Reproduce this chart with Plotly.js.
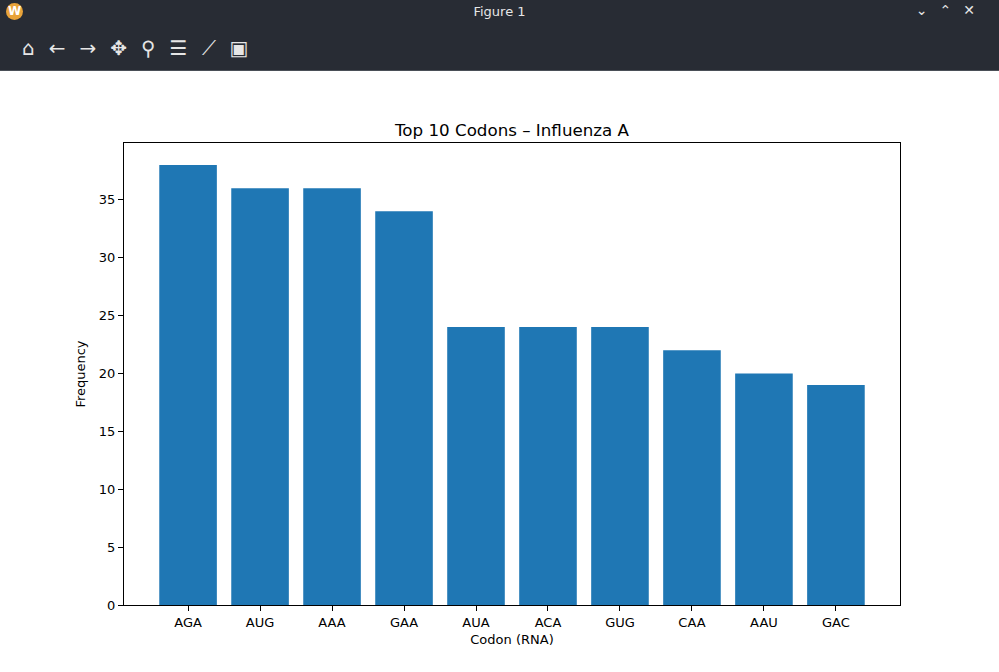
<!DOCTYPE html>
<html>
<head>
<meta charset="utf-8">
<script src="https://cdn.plot.ly/plotly-3.0.1.min.js"></script>
<style>
  body { margin: 0; background: #fff; width: 999px; height: 672px; overflow: hidden; font-family: "DejaVu Sans", sans-serif; }
  #bar { height: 70px; background: #282c34; border-bottom: 1px solid #4a4f57; position: relative; color: #e6e6e6; }
  #bar .title { position: absolute; top: 4px; left: 0; width: 100%; text-align: center; font-size: 13px; }
  #bar .logo { position: absolute; left: 6px; top: 3px; width: 17px; height: 17px; border-radius: 50%; background: #e8a33a; color: #fff; font-size: 12px; text-align: center; line-height: 17px; font-weight: bold; }
  #bar .tools { position: absolute; left: 22px; top: 36px; font-size: 20px; letter-spacing: 14px; color: #e6e6e6; }
  #bar .win { position: absolute; right: 12px; top: 2px; font-size: 14px; letter-spacing: 12px; }
  #myDiv { width: 999px; height: 601px; }
</style>
</head>
<body>
<div id="bar">
  <div class="logo">W</div>
  <div class="title">Figure 1</div>
  <div class="tools">⌂←→✥⚲☰⟋▣</div>
  <div class="win">⌄⌃✕</div>
</div>
<div id="myDiv"></div>
<script>
let codons = ["AGA", "AUG", "AAA", "GAA", "AUA", "ACA", "GUG", "CAA", "AAU", "GAC"];
let counts = [38, 36, 36, 34, 24, 24, 24, 22, 20, 19];
let yTicks = [0, 5, 10, 15, 20, 25, 30, 35];

let data = [{
  type: "bar",
  x: codons,
  y: counts,
  marker: { color: "#1f77b4", line: { width: 0 } },
  hoverinfo: "x+y"
}];

let axisFont = { family: "DejaVu Sans, sans-serif", size: 13, color: "#000" };

let layout = {
  width: 999,
  height: 601,
  margin: { l: 124, r: 99, t: 72, b: 67 },
  paper_bgcolor: "#fff",
  plot_bgcolor: "#fff",
  showlegend: false,
  bargap: 0.2,
  font: axisFont,
  title: {
    text: "Top 10 Codons – Influenza A",
    font: { family: "DejaVu Sans, sans-serif", size: 16.7, color: "#000" },
    xref: "paper",
    x: 0.5,
    xanchor: "center",
    yref: "paper",
    y: 1,
    yanchor: "bottom",
    pad: { b: 7 }
  },
  xaxis: {
    type: "category",
    range: [-0.89, 9.89],
    showline: true,
    mirror: true,
    linecolor: "#000",
    linewidth: 1,
    showgrid: false,
    zeroline: false,
    ticks: "outside",
    ticklen: 5,
    tickcolor: "#000",
    tickfont: axisFont,
    title: { text: "Codon (RNA)", font: axisFont, standoff: 6 }
  },
  yaxis: {
    range: [0, 39.9],
    tickvals: yTicks,
    showline: true,
    mirror: true,
    linecolor: "#000",
    linewidth: 1,
    showgrid: false,
    zeroline: false,
    ticks: "outside",
    ticklen: 5,
    tickcolor: "#000",
    tickfont: axisFont,
    title: { text: "Frequency", font: axisFont, standoff: 10 }
  }
};

Plotly.newPlot("myDiv", data, layout, { displayModeBar: false });
</script>
</body>
</html>
